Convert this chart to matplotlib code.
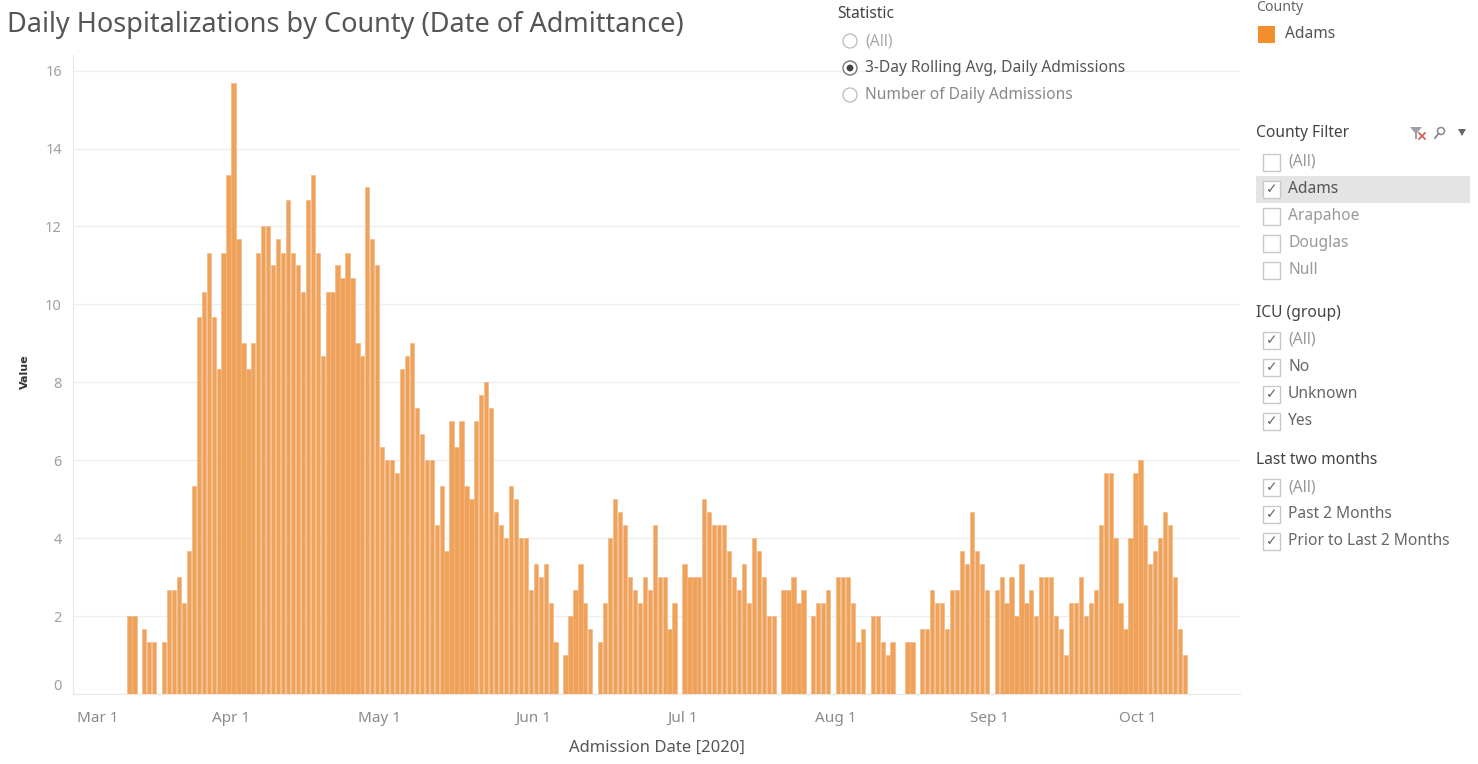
import matplotlib
matplotlib.use("Agg")
import matplotlib.pyplot as plt
import matplotlib.dates as mdates
from matplotlib.patches import Rectangle, Circle, Polygon
import pandas as pd
import numpy as np

# ---------------- data (3-day rolling avg, daily admissions, Adams) ----------------
mar_start = "2020-03-11"
mar_values = [2.0, 2.0, 0, 1.67, 1.33, 1.33, 0, 1.33, 2.67, 2.67, 3.0, 2.33, 3.67, 5.33,
              9.67, 10.33, 11.33, 9.67, 8.33, 11.33, 13.33]
apr_values = [15.67, 11.67, 9.0, 8.33, 9.0, 11.33, 12.0, 12.0, 11.0, 11.67, 11.33, 12.67, 11.33,
              11.0, 10.33, 12.67, 13.33, 11.33, 8.67, 10.33, 10.33, 11.0, 10.67, 11.33, 10.67,
              9.0, 8.67, 13.0, 11.67, 11.0]
may_values = [6.33, 6.0, 6.0, 5.67, 8.33, 8.67, 9.0, 7.33, 6.67, 6.0, 6.0, 4.33, 5.33, 3.67,
              7.0, 6.33, 7.0, 5.33, 5.0, 7.0, 7.67, 8.0, 7.33, 4.67, 4.33, 4.0, 5.33, 5.0, 4.0,
              4.0, 2.67]
jun_values = [3.33, 3.0, 3.33, 2.33, 1.33, 0, 1.0, 2.0, 2.67, 3.33, 2.33, 1.67, 0, 1.33, 2.33,
              4.0, 5.0, 4.67, 4.33, 3.0, 2.67, 2.33, 3.0, 2.67, 4.33, 3.0, 3.0, 1.67, 2.33, 0]
jul_values = [3.33, 3.0, 3.0, 3.0, 5.0, 4.67, 4.33, 4.33, 4.33, 3.67, 3.0, 2.67, 3.33, 2.33,
              4.0, 3.67, 3.0, 2.0, 2.0, 0, 2.67, 2.67, 3.0, 2.33, 2.67, 0, 2.0, 2.33, 2.33,
              2.67, 0]
aug_values = [3.0, 3.0, 3.0, 2.33, 1.33, 1.67, 0, 2.0, 2.0, 1.33, 1.0, 1.33, 0, 0, 1.33, 1.33,
              0, 1.67, 1.67, 2.67, 2.33, 2.33, 1.67, 2.67, 2.67, 3.67, 3.33, 4.67, 3.67, 3.33,
              2.67]
sep_values = [0, 2.67, 3.0, 2.33, 3.0, 2.0, 3.33, 2.33, 2.67, 2.0, 3.0, 3.0, 3.0, 2.0, 1.67,
              1.0, 2.33, 2.33, 3.0, 2.0, 2.33, 2.67, 4.33, 5.67, 5.67, 4.0, 2.33, 1.67, 4.0, 5.67]
oct_values = [6.0, 4.33, 3.33, 3.67, 4.0, 4.67, 4.33, 3.0, 1.67, 1.0]

month_ticks = ["2020-03-01", "2020-04-01", "2020-05-01", "2020-06-01", "2020-07-01",
               "2020-08-01", "2020-09-01", "2020-10-01"]
y_ticks = [0, 2, 4, 6, 8, 10, 12, 14, 16]

statistic_options = ["(All)", "3-Day Rolling Avg, Daily Admissions", "Number of Daily Admissions"]
county_filter = ["(All)", "Adams", "Arapahoe", "Douglas", "Null"]
icu_group = ["(All)", "No", "Unknown", "Yes"]
last_two_months = ["(All)", "Past 2 Months", "Prior to Last 2 Months"]

values = (mar_values + apr_values + may_values + jun_values + jul_values + aug_values
          + sep_values + oct_values)
dates = pd.date_range(mar_start, periods=len(values), freq="D")

# ---------------- figure ----------------
W, H = 1478, 764
FONT = "Noto Sans"
plt.rcParams["font.family"] = [FONT, "DejaVu Sans"]

fig = plt.figure(figsize=(W / 100, H / 100), dpi=100)
fig.patch.set_facecolor("white")

def fx(px):
    return px / W

def fy(py):
    return 1 - py / H

ax_l, ax_r, ax_t, ax_b = 73, 1240, 55, 694
ax = fig.add_axes([fx(ax_l), fy(ax_b), fx(ax_r - ax_l), (ax_b - ax_t) / H])

xnum = mdates.date2num(dates) + 0.5
bar_color = "#F0A258"
ax.bar(xnum, values, width=0.86, color=bar_color, edgecolor="#EDB685", linewidth=0.4,
       zorder=3)

m0 = mdates.date2num(pd.Timestamp("2020-03-01"))
ax.set_xlim(m0 - 0.89, m0 + 234.6)
ax.set_ylim(0, 16.4)

tick_dates = pd.to_datetime(month_ticks)
ax.set_xticks(mdates.date2num(tick_dates))
ax.set_xticklabels([f"{d:%b} {d.day}" for d in tick_dates])
ax.set_yticks(y_ticks)
ax.set_yticklabels([str(v) for v in y_ticks])
ax.tick_params(axis="x", length=0, pad=12, labelsize=11, labelcolor="#8a8a8a")
ax.tick_params(axis="y", length=0, pad=8, labelsize=10.5, labelcolor="#a0a0a0")
for lbl in ax.get_xticklabels()[:1]:
    lbl.set_horizontalalignment("left")
ylbls = ax.get_yticklabels()
ylbls[0].set_verticalalignment("bottom")

ax.grid(axis="y", color="#eeeeee", linewidth=0.9, zorder=0)
ax.grid(axis="x", visible=False)
for s in ["top", "right"]:
    ax.spines[s].set_visible(False)
ax.spines["left"].set_color("#e8e8e8")
ax.spines["bottom"].set_color("#e8e8e8")
ax.set_facecolor("white")

# ---------------- overlay in pixel coordinates ----------------
ov = fig.add_axes([0, 0, 1, 1], zorder=5)
ov.set_xlim(0, W)
ov.set_ylim(H, 0)
ov.axis("off")
ov.patch.set_alpha(0)

TS = 11.2  # panel text size

ov.text(7, 25, "Daily Hospitalizations by County (Date of Admittance)", fontsize=19.5,
        color="#555555", va="center", ha="left")
ov.text(657, 748, "Admission Date [2020]", fontsize=12, color="#555555", va="center",
        ha="center")
ov.text(25, 372, "Value", fontsize=8, color="#333333", fontweight="bold", va="center",
        ha="center", rotation=90, family="DejaVu Sans")

# Statistic radio list
ov.text(837, 14, "Statistic", fontsize=TS, color="#444444", va="center", ha="left")
stat_y = [41, 68, 95]
stat_col = ["#aaaaaa", "#555555", "#888888"]
for i, (opt, yy) in enumerate(zip(statistic_options, stat_y)):
    if i == 1:
        ov.add_patch(Circle((850, yy), 7, facecolor="white", edgecolor="#777777", lw=1.0))
        ov.add_patch(Circle((850, yy), 3.4, facecolor="#444444", edgecolor="none"))
    else:
        ov.add_patch(Circle((850, yy), 7, facecolor="white", edgecolor="#c0c0c0", lw=1.0))
    ov.text(865, yy, opt, fontsize=TS, color=stat_col[i], va="center", ha="left")

# County colour legend (header partly above the visible area in the original)
ov.text(1256, 0, "County", fontsize=TS - 1, color="#666666", va="top", ha="left")
ov.add_patch(Rectangle((1258, 26), 17, 17, facecolor="#F28E2B", edgecolor="none"))
ov.text(1285, 34, "Adams", fontsize=TS, color="#555555", va="center", ha="left")

def checkbox(yy, checked, text, tcol):
    ov.add_patch(Rectangle((1263, yy - 8.5), 17, 17, facecolor="white",
                           edgecolor="#c8c8c8", lw=1.0))
    if checked:
        ov.text(1271.5, yy + 0.5, "\u2713", fontsize=10, color="#666666", va="center",
                ha="center", family="DejaVu Sans")
    ov.text(1288, yy, text, fontsize=TS, color=tcol, va="center", ha="left")

# County Filter
ov.text(1256, 133, "County Filter", fontsize=TS, color="#444444", va="center", ha="left")
# small header icons
ov.add_patch(Polygon([[1410, 127], [1422, 127], [1417, 133], [1417, 139], [1415, 139],
                      [1415, 133]], closed=True, facecolor="#9aa0a6", edgecolor="none"))
ov.plot([1419, 1425], [133, 139], color="#d9534f", lw=1.2)
ov.plot([1419, 1425], [139, 133], color="#d9534f", lw=1.2)
ov.add_patch(Circle((1441, 131), 3.5, facecolor="none", edgecolor="#888888", lw=1.1))
ov.plot([1438.5, 1435], [133.5, 138], color="#888888", lw=1.3)
ov.add_patch(Polygon([[1458, 129], [1466, 129], [1462, 136]], closed=True,
                     facecolor="#666666", edgecolor="none"))

ov.add_patch(Rectangle((1256, 176), 214, 27, facecolor="#e4e4e4", edgecolor="none"))
cf_y = [162, 189, 216, 243, 270]
for name, yy in zip(county_filter, cf_y):
    checked = name == "Adams"
    checkbox(yy, checked, name, "#555555" if checked else "#999999")

# ICU (group)
ov.text(1256, 313, "ICU (group)", fontsize=TS, color="#444444", va="center", ha="left")
icu_y = [340, 367, 394, 421]
for i, (name, yy) in enumerate(zip(icu_group, icu_y)):
    checkbox(yy, True, name, "#999999" if i == 0 else "#666666")

# Last two months
ov.text(1256, 460, "Last two months", fontsize=TS, color="#444444", va="center", ha="left")
ltm_y = [487, 514, 541]
for i, (name, yy) in enumerate(zip(last_two_months, ltm_y)):
    checkbox(yy, True, name, "#999999" if i == 0 else "#666666")

fig.savefig("out.png", dpi=100, facecolor="white")
